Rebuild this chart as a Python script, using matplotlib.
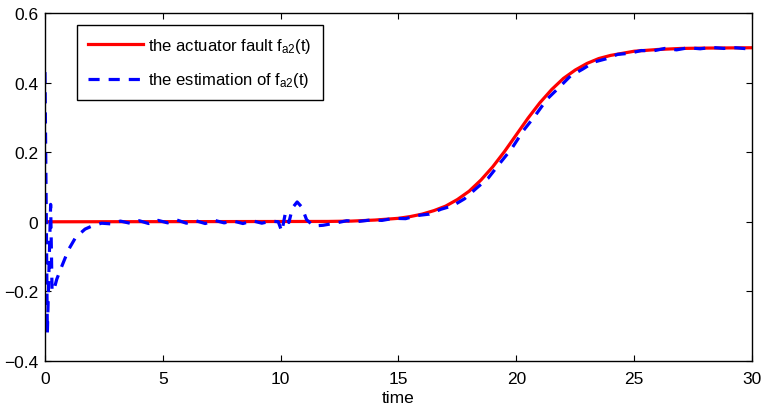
import matplotlib
matplotlib.use("Agg")
import matplotlib.pyplot as plt

plt.rcParams['font.family'] = ['Liberation Sans', 'DejaVu Sans']
plt.rcParams['mathtext.fontset'] = 'custom'
plt.rcParams['mathtext.rm'] = 'Liberation Sans'
plt.rcParams['mathtext.it'] = 'Liberation Sans'
plt.rcParams['lines.scale_dashes'] = False

# actuator fault f_a2(t)
t_fault = [0, 12, 13, 14, 15, 15.5, 16, 16.5, 17, 17.5, 18, 18.5, 19, 19.5,
           20, 20.5, 21, 21.5, 22, 22.5, 23, 23.5, 24, 25, 26, 27, 28, 30]
f_fault = [0, 0.001, 0.002, 0.005, 0.010, 0.015, 0.022, 0.032, 0.045, 0.064,
           0.088, 0.120, 0.158, 0.202, 0.250, 0.298, 0.342, 0.380, 0.412,
           0.436, 0.455, 0.469, 0.478, 0.490, 0.495, 0.498, 0.499, 0.500]

# estimation of f_a2(t)
t_est = [0, 0.1, 0.24, 0.3, 0.4, 0.5, 0.7, 1.0, 1.3, 1.7, 2.0, 2.4, 2.8, 3.2,
         3.6, 4.0, 4.4, 4.8, 5.2, 5.6, 6.0, 6.4, 6.8, 7.2, 7.6, 8.0, 8.4, 8.8,
         9.2, 9.6, 9.9, 10.05, 10.2, 10.35, 10.5, 10.7, 10.9, 11.1, 11.4, 11.8,
         12.3, 12.8, 13.3, 13.8, 14.3, 14.8, 15.3, 15.8, 16.3, 16.8, 17.3, 17.8,
         18.3, 18.8, 19.3, 19.8, 20.3, 20.8, 21.3, 21.8, 22.3, 22.8, 23.3, 23.8,
         24.3, 24.8, 25.3, 25.8, 26.3, 26.8, 27.3, 27.8, 28.3, 28.8, 29.3, 29.8, 30]
f_est = [0.43, -0.32, 0.05, -0.20, -0.19, -0.165, -0.13, -0.08, -0.045, -0.021,
         -0.012, -0.004, -0.006, 0.002, -0.004, 0.003, -0.005, 0.004, -0.003,
         0.005, -0.004, 0.003, -0.005, 0.004, -0.003, 0.002, -0.005, 0.003,
         -0.004, 0.002, 0.0, -0.028, 0.025, -0.002, 0.04, 0.057, 0.042, 0.006,
         -0.012, -0.010, -0.004, 0.003, 0.001, 0.005, 0.004, 0.010, 0.009,
         0.018, 0.022, 0.036, 0.046, 0.066, 0.096, 0.125, 0.168, 0.210, 0.262,
         0.305, 0.352, 0.385, 0.419, 0.438, 0.459, 0.468, 0.481, 0.484, 0.492,
         0.491, 0.498, 0.494, 0.500, 0.497, 0.501, 0.498, 0.500, 0.497, 0.499]

x_ticks = [0, 5, 10, 15, 20, 25, 30]
y_ticks = [-0.4, -0.2, 0, 0.2, 0.4, 0.6]
y_labels = ['\u22120.4', '\u22120.2', '0', '0.2', '0.4', '0.6']

fig = plt.figure(figsize=(7.65, 4.1), dpi=100)
ax = fig.add_axes([0.0588, 0.117, 0.9242, 0.849])

ax.plot(t_fault, f_fault, color='#ff0000', lw=2.3,
        label=r'the actuator fault $\mathrm{f_{a2}}$(t)')
ax.plot(t_est, f_est, color='#0000ff', lw=2.3, dashes=(8, 6.5),
        label=r'the estimation of $\mathrm{f_{a2}}$(t)')

ax.set_xlim(0, 30)
ax.set_ylim(-0.4, 0.6)
ax.set_xticks(x_ticks)
ax.set_yticks(y_ticks)
ax.set_yticklabels(y_labels)
ax.tick_params(direction='in', top=True, right=True, length=4, labelsize=12.5)
ax.tick_params(axis='x', pad=7)
ax.tick_params(axis='y', pad=5)
for s in ax.spines.values():
    s.set_linewidth(1.0)
ax.set_xlabel('time', fontsize=12.5, labelpad=3)

leg = ax.legend(loc='upper left', bbox_to_anchor=(0.045, 0.966), borderaxespad=0,
                fontsize=12, fancybox=False, edgecolor='black', framealpha=1,
                handlelength=3.3, handletextpad=0.35, borderpad=0.65, labelspacing=0.95)
leg.get_frame().set_linewidth(1.0)

fig.savefig('out.png', dpi=100)
